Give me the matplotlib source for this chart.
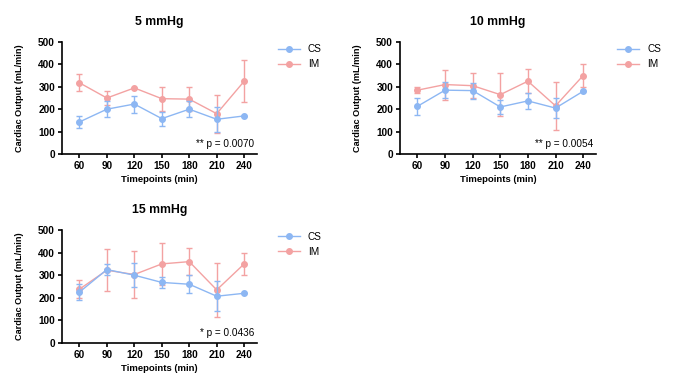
import matplotlib
matplotlib.use("Agg")
import matplotlib.pyplot as plt
from matplotlib.lines import Line2D

plt.rcParams['font.family'] = ['Liberation Sans', 'DejaVu Sans']

# data
timepoints = [60, 90, 120, 150, 180, 210, 240]
titles = ["5 mmHg", "10 mmHg", "15 mmHg"]
pvals = ["** p = 0.0070", "** p = 0.0054", "* p = 0.0436"]

cs_mean = [
    [143, 200, 223, 158, 200, 155, 170],
    [213, 285, 283, 210, 237, 205, 280],
    [225, 325, 300, 268, 260, 207, 220],
]
cs_err = [
    [25, 37, 38, 31, 35, 55, 0],
    [37, 35, 36, 30, 37, 46, 0],
    [35, 24, 52, 24, 40, 67, 0],
]
im_mean = [
    [318, 250, 295, 247, 245, 180, 325],
    [285, 310, 305, 265, 325, 215, 350],
    [238, 322, 303, 350, 360, 235, 350],
]
im_err = [
    [37, 32, 0, 54, 55, 85, 93],
    [13, 67, 55, 96, 53, 107, 50],
    [41, 93, 103, 94, 60, 118, 49],
]

cs_col = "#8db7f3"
im_col = "#f3a2a2"

W, H = 675, 388
fig = plt.figure(figsize=(6.75, 3.88), dpi=100)

# axes boxes in pixels: left, top, right, bottom
px_boxes = [(62, 42, 257, 154), (400, 42, 596, 154), (62, 230, 257, 343)]
legend_at = [(269, 35), (608, 35), (269, 223)]

for i in range(3):
    l, t, r, b = px_boxes[i]
    ax = fig.add_axes([l / W, 1 - b / H, (r - l) / W, (b - t) / H])
    ax.errorbar(timepoints, im_mean[i], yerr=im_err[i], color=im_col, marker='o',
                markersize=4, lw=1.0, capsize=2.5, elinewidth=1.0, capthick=1.0,
                zorder=2)
    ax.errorbar(timepoints, cs_mean[i], yerr=cs_err[i], color=cs_col, marker='o',
                markersize=4, lw=1.0, capsize=2.5, elinewidth=1.0, capthick=1.0,
                zorder=3)
    ax.set_xlim(41, 254)
    ax.set_ylim(0, 500)
    ax.set_xticks(timepoints)
    ax.set_yticks([0, 100, 200, 300, 400, 500])
    for s in ['top', 'right']:
        ax.spines[s].set_visible(False)
    for s in ['left', 'bottom']:
        ax.spines[s].set_linewidth(1.2)
    ax.tick_params(width=1.2, length=3, labelsize=7.2, pad=2)
    for lab in ax.get_xticklabels() + ax.get_yticklabels():
        lab.set_fontweight('bold')
    ax.set_ylabel("Cardiac Output (mL/min)", fontsize=6.6, fontweight='bold', labelpad=10)
    ax.set_xlabel("Timepoints (min)", fontsize=6.8, fontweight='bold', labelpad=3)
    ax.set_title(titles[i], fontsize=8.8, fontweight='bold', pad=12)
    ax.text(0.985, 0.09, pvals[i], transform=ax.transAxes, ha='right', va='center',
            fontsize=7.2)
    handles = [
        Line2D([], [], color=cs_col, marker='o', markersize=4, lw=1.0),
        Line2D([], [], color=im_col, marker='o', markersize=4, lw=1.0),
    ]
    lx, ly = legend_at[i]
    ax.legend(handles, ["CS", "IM"], loc='upper left',
              bbox_to_anchor=(lx / W, 1 - ly / H), bbox_transform=fig.transFigure,
              frameon=False, fontsize=7.2, handlelength=2.2, labelspacing=0.5)

fig.savefig("out.png", dpi=100)
